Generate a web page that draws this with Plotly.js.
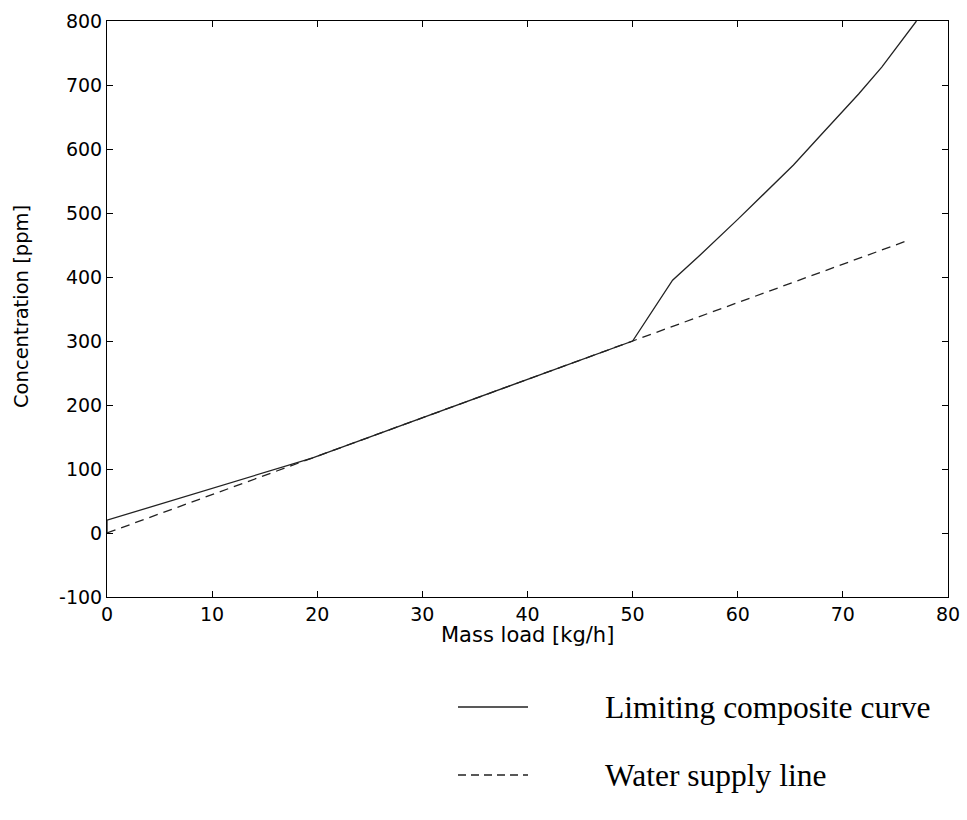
<!DOCTYPE html>
<html>
<head>
<meta charset="utf-8">
<script src="https://cdn.plot.ly/plotly-3.0.1.min.js"></script>
<style>
  html, body { margin: 0; padding: 0; background: #fff; }
  #chart { width: 967px; height: 820px; }
</style>
</head>
<body>
<div id="chart"></div>
<script>
// Limiting composite curve: mass load [kg/h] vs concentration [ppm]
const compositeLoad = [0, 0, 19.5, 50, 53.8, 56.4, 60, 62.3, 65.3, 67.8, 71.5, 73.7, 77];
const compositeConc = [0, 20, 117, 300, 395, 434, 490, 527, 575, 620, 686, 728, 800];

// Water supply line: straight from origin through the pinch
const supplyLoad = [0, 76];
const supplyConc = [0, 456];

const xTicks = [0, 10, 20, 30, 40, 50, 60, 70, 80];
const yTicks = [-100, 0, 100, 200, 300, 400, 500, 600, 700, 800];

const xTitle = 'Mass load [kg/h]';
const yTitle = 'Concentration [ppm]';
const legendNames = ['Limiting composite curve', 'Water supply line'];

const traces = [
  {
    x: compositeLoad, y: compositeConc, type: 'scatter', mode: 'lines',
    name: legendNames[0],
    line: { color: '#222', width: 1.3 },
    showlegend: false
  },
  {
    x: supplyLoad, y: supplyConc, type: 'scatter', mode: 'lines',
    name: legendNames[1],
    line: { color: '#222', width: 1.3, dash: '9px,6px' },
    showlegend: false
  }
];

const sans = 'DejaVu Sans, Liberation Sans, Arial, sans-serif';
const axisFont = { family: sans, size: 19, color: '#000' };

// Page pixel -> paper fraction helpers for the plot box
const plotL = 107, plotR = 948, plotT = 21, plotB = 597;
const px = v => (v - plotL) / (plotR - plotL);
const py = v => (plotB - v) / (plotB - plotT);

// Legend rows below the axes box
const legendRows = [
  { y: 707, dash: 'solid' },
  { y: 775, dash: '8px,5px' }
];

const shapes = legendRows.map(r => ({
  type: 'line', xref: 'paper', yref: 'paper',
  x0: px(458), x1: px(528), y0: py(r.y), y1: py(r.y),
  line: { color: '#222', width: 1.3, dash: r.dash }
}));

const annotations = legendRows.map((r, i) => ({
  xref: 'paper', yref: 'paper', x: px(603), y: py(r.y),
  xanchor: 'left', yanchor: 'middle', showarrow: false,
  text: legendNames[i],
  font: { family: 'Liberation Serif, Times New Roman, serif', size: 31.5, color: '#000' }
}));

// Axis titles, placed as in the original MATLAB figure
annotations.push({
  xref: 'paper', yref: 'paper', x: px(527), y: py(635),
  xanchor: 'center', yanchor: 'middle', showarrow: false,
  text: xTitle, font: { family: sans, size: 21, color: '#000' }
});
annotations.push({
  xref: 'paper', yref: 'paper', x: px(21), y: py(307),
  xanchor: 'center', yanchor: 'middle', showarrow: false, textangle: -90,
  text: yTitle, font: { family: sans, size: 19.5, color: '#000' }
});

const layout = {
  width: 967, height: 820,
  paper_bgcolor: '#fff', plot_bgcolor: '#fff',
  margin: { l: plotL, r: 967 - plotR, t: plotT, b: 820 - plotB },
  showlegend: false,
  xaxis: {
    range: [0, 80], tickvals: xTicks, ticktext: xTicks.map(String),
    ticks: 'inside', ticklen: 6, tickcolor: '#000', tickwidth: 1,
    showline: true, linecolor: '#000', linewidth: 1, mirror: 'ticks',
    showgrid: false, zeroline: false,
    tickfont: axisFont
  },
  yaxis: {
    range: [-100, 800], tickvals: yTicks, ticktext: yTicks.map(String),
    ticks: 'inside', ticklen: 6, tickcolor: '#000', tickwidth: 1,
    showline: true, linecolor: '#000', linewidth: 1, mirror: 'ticks',
    showgrid: false, zeroline: false,
    tickfont: axisFont
  },
  shapes: shapes,
  annotations: annotations
};

Plotly.newPlot('chart', traces, layout, { displayModeBar: false, staticPlot: true });
</script>
</body>
</html>
